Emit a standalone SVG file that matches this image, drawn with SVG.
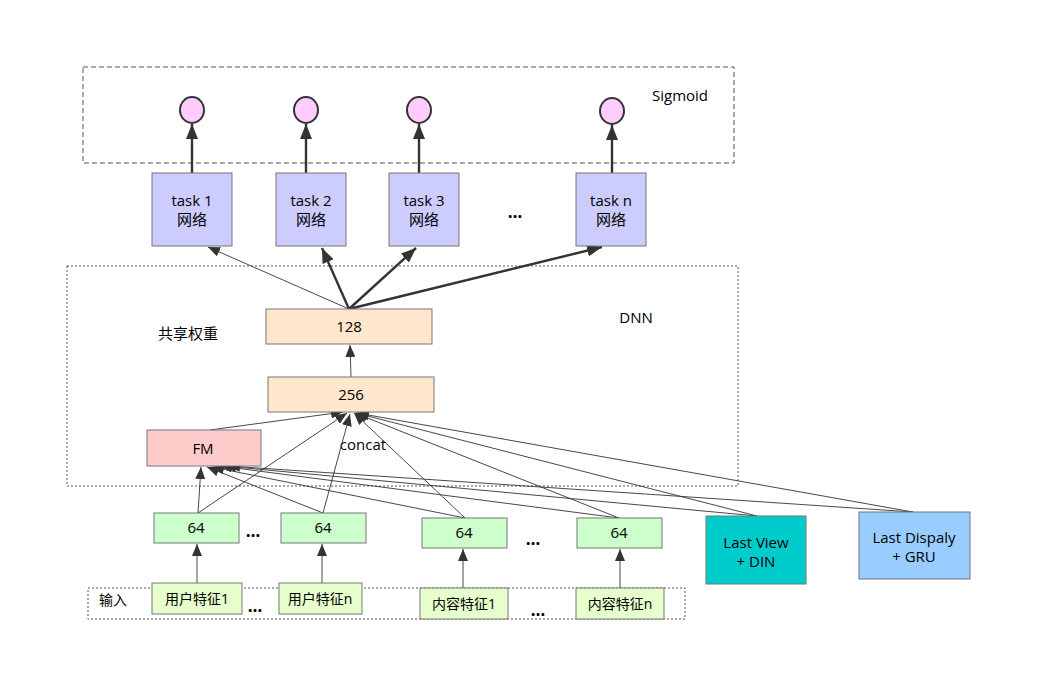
<svg xmlns="http://www.w3.org/2000/svg" width="1038" height="691" viewBox="0 0 1038 691">
<defs>
<style>
text{font-family:"Open Sans","Noto Sans CJK SC",sans-serif;font-size:15px;fill:#000;text-anchor:middle}
.sm{font-size:14px}
.dots{font-size:17px;font-weight:bold}
.box{stroke:#777;stroke-width:1}
.task{fill:#ccccff}
.dense{fill:#ffe6cc}
.emb{fill:#ccffcc}
.inp{fill:#e6ffcc}
.sig{fill:#ffccff;stroke:#333;stroke-width:2}
.thin{stroke:#333;stroke-width:0.9;fill:none;marker-end:url(#a)}
.thick{stroke:#333;stroke-width:2.4;fill:none;marker-end:url(#b)}
.frame{fill:none;stroke:#555;stroke-width:1}
</style>
<marker id="a" markerUnits="userSpaceOnUse" markerWidth="12" markerHeight="10" refX="12" refY="5" orient="auto"><path d="M0,0 L12,5 L0,10 Z" fill="#333"/></marker>
<marker id="b" markerUnits="userSpaceOnUse" markerWidth="15" markerHeight="12" refX="15" refY="6" orient="auto"><path d="M0,0 L15,6 L0,12 Z" fill="#333"/></marker>
</defs>
<rect width="1038" height="691" fill="#fff"/>
<g id="frames">
<rect class="frame" x="83" y="67" width="651" height="96" stroke-dasharray="5,3"/>
<rect class="frame" x="67" y="266" width="671" height="220" stroke-dasharray="2,2"/>
<rect class="frame" x="88" y="588" width="597" height="31" stroke-dasharray="2,2"/>
<text x="680" y="101">Sigmoid</text>
<text x="636" y="323">DNN</text>
<text x="188" y="339">共享权重</text>
<text x="113" y="605" class="sm">输入</text>
<text x="363" y="450">concat</text>
</g>
<g id="connectors">
<line class="thick" x1="192" y1="173" x2="192" y2="124"/>
<line class="thick" x1="306" y1="173" x2="306" y2="124"/>
<line class="thick" x1="419" y1="173" x2="419" y2="124"/>
<line class="thick" x1="612" y1="173" x2="612" y2="125"/>
<line class="thin" x1="349" y1="309" x2="208" y2="247"/>
<line class="thick" x1="349" y1="309" x2="322" y2="248"/>
<line class="thick" x1="349" y1="309" x2="416" y2="248"/>
<line class="thick" x1="349" y1="309" x2="602" y2="247"/>
<line class="thin" x1="351" y1="377" x2="350" y2="345"/>
<line class="thin" x1="210" y1="430" x2="343" y2="412"/>
<line class="thin" x1="198" y1="513" x2="347" y2="413"/>
<line class="thin" x1="323" y1="513" x2="350" y2="414"/>
<line class="thin" x1="465" y1="518" x2="354" y2="413"/>
<line class="thin" x1="619" y1="518" x2="355" y2="413"/>
<line class="thin" x1="757" y1="516" x2="356" y2="413"/>
<line class="thin" x1="913" y1="512" x2="357" y2="413"/>
<line class="thin" x1="198" y1="513" x2="201" y2="467"/>
<line class="thin" x1="323" y1="513" x2="207" y2="467"/>
<line class="thin" x1="465" y1="518" x2="212" y2="467"/>
<line class="thin" x1="619" y1="518" x2="220" y2="466"/>
<line class="thin" x1="757" y1="516" x2="224" y2="466"/>
<line class="thin" x1="913" y1="512" x2="228" y2="466"/>
<line class="thin" x1="197" y1="583" x2="197" y2="544"/>
<line class="thin" x1="322" y1="583" x2="322" y2="544"/>
<line class="thin" x1="463" y1="588" x2="463" y2="549"/>
<line class="thin" x1="620" y1="588" x2="620" y2="549"/>
</g>
<g id="sig1"><ellipse class="sig" cx="192" cy="110" rx="12" ry="13"/></g>
<g id="sig2"><ellipse class="sig" cx="306" cy="110" rx="12" ry="13"/></g>
<g id="sig3"><ellipse class="sig" cx="419" cy="110" rx="12" ry="13"/></g>
<g id="sign"><ellipse class="sig" cx="612" cy="111" rx="12" ry="13"/></g>
<g id="task1"><rect class="box task" x="152" y="173" width="80" height="73"/><text x="192" y="206">task 1</text><text x="192" y="225">网络</text></g>
<g id="task2"><rect class="box task" x="276" y="173" width="70" height="73"/><text x="311" y="206">task 2</text><text x="311" y="225">网络</text></g>
<g id="task3"><rect class="box task" x="389" y="173" width="70" height="73"/><text x="424" y="206">task 3</text><text x="424" y="225">网络</text></g>
<text x="515" y="218" class="dots">…</text>
<g id="taskn"><rect class="box task" x="576" y="173" width="70" height="73"/><text x="611" y="206">task n</text><text x="611" y="225">网络</text></g>
<g id="d128"><rect class="box dense" x="266" y="309" width="166" height="35"/><text x="349" y="332">128</text></g>
<g id="d256"><rect class="box dense" x="268" y="377" width="166" height="35"/><text x="351" y="400">256</text></g>
<g id="fm"><rect class="box" fill="#ffcccc" x="147" y="430" width="114" height="36"/><text x="203" y="454">FM</text></g>
<g id="e1"><rect class="box emb" x="154" y="513" width="85" height="30"/><text x="196" y="533">64</text></g>
<text x="253" y="537" class="dots">…</text>
<g id="e2"><rect class="box emb" x="281" y="513" width="85" height="30"/><text x="323" y="533">64</text></g>
<g id="e3"><rect class="box emb" x="422" y="518" width="85" height="30"/><text x="464" y="538">64</text></g>
<text x="533" y="545" class="dots">…</text>
<g id="e4"><rect class="box emb" x="577" y="518" width="85" height="30"/><text x="619" y="538">64</text></g>
<g id="lastview"><rect class="box" fill="#00cccc" x="706" y="516" width="100" height="68"/><text x="756" y="548">Last View</text><text x="756" y="567">+ DIN</text></g>
<g id="lastdisplay"><rect class="box" fill="#99ccff" x="859" y="512" width="111" height="67"/><text x="914" y="543">Last Dispaly</text><text x="914" y="562">+ GRU</text></g>
<g id="in1"><rect class="box inp" x="152" y="583" width="90" height="31"/><text x="197" y="604" class="sm">用户特征1</text></g>
<text x="255" y="612" class="dots">…</text>
<g id="in2"><rect class="box inp" x="279" y="583" width="83" height="31"/><text x="320" y="604" class="sm">用户特征n</text></g>
<g id="in3"><rect class="box inp" x="420" y="588" width="88" height="31"/><text x="464" y="609" class="sm">内容特征1</text></g>
<text x="538" y="616" class="dots">…</text>
<g id="in4"><rect class="box inp" x="576" y="588" width="88" height="31"/><text x="620" y="609" class="sm">内容特征n</text></g>
</svg>
